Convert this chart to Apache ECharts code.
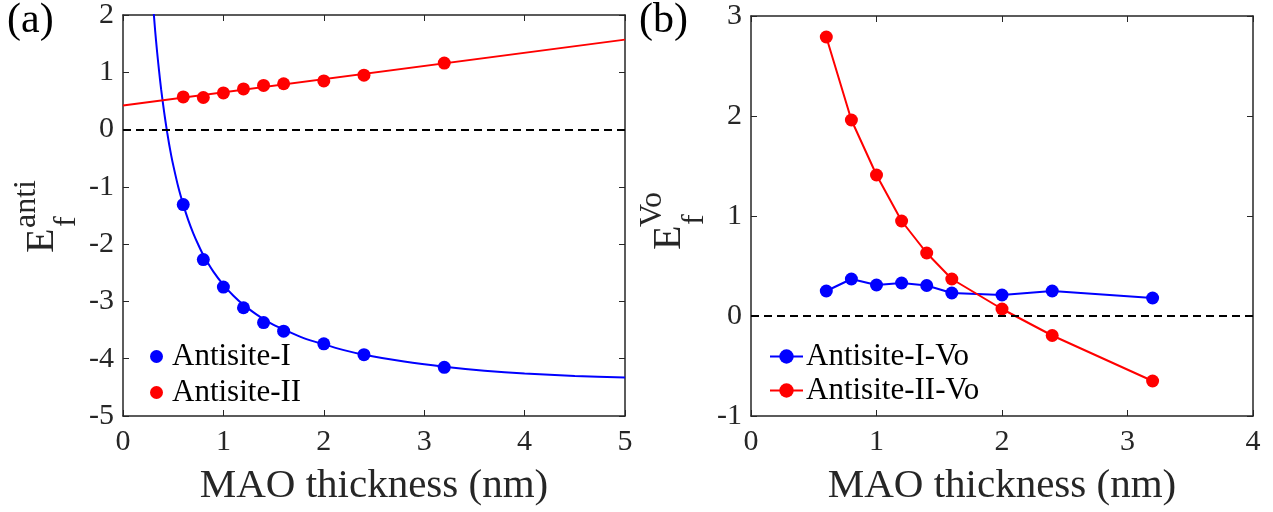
<!DOCTYPE html>
<html>
<head>
<meta charset="utf-8">
<script src="https://cdn.jsdelivr.net/npm/echarts@6/dist/echarts.min.js"></script>
<style>html,body{margin:0;padding:0;background:#fff;}#c{width:1273px;height:512px;}</style>
</head>
<body>
<div id="c"></div>
<script>
// ---- data ----
const thickness = [0.6, 0.8, 1.0, 1.2, 1.4, 1.6, 2.0, 2.4, 3.2];
const antisiteI = [-1.31, -2.27, -2.75, -3.11, -3.37, -3.52, -3.74, -3.93, -4.15];
const antisiteII = [0.57, 0.56, 0.64, 0.71, 0.77, 0.80, 0.85, 0.95, 1.16];
// fitted curves
const fitIx = [0.30, 0.32, 0.34, 0.36, 0.38, 0.40, 0.42, 0.44, 0.46, 0.48, 0.50, 0.55, 0.60, 0.65, 0.70, 0.75, 0.80, 0.90, 1.0, 1.1, 1.2, 1.3, 1.4, 1.5, 1.6, 1.8, 2.0, 2.2, 2.4, 2.8, 3.2, 3.6, 4.0, 4.5, 5.0];
const fitIy = [2.17, 1.73, 1.35, 1.01, 0.70, 0.43, 0.18, -0.05, -0.26, -0.45, -0.62, -1.00, -1.31, -1.58, -1.81, -2.01, -2.19, -2.48, -2.71, -2.90, -3.06, -3.19, -3.31, -3.41, -3.49, -3.64, -3.75, -3.85, -3.93, -4.05, -4.14, -4.21, -4.26, -4.30, -4.33];
const fitIIx = [0, 5];
const fitIIy = [0.42, 1.57];
const antisiteIVo = [0.25, 0.37, 0.31, 0.33, 0.305, 0.23, 0.21, 0.25, 0.18];
const antisiteIIVo = [2.79, 1.96, 1.41, 0.95, 0.63, 0.37, 0.07, -0.195, -0.65];
const ticksAx = [0, 5, 1], ticksAy = [-5, 2, 1];
const ticksBx = [0, 4, 1], ticksBy = [-1, 3, 1];

const FONT = '"Liberation Serif", "Times New Roman", serif';
const TXT = '#262626';
const BLUE = '#0000ff', RED = '#ff0000';
const zip = (xs, ys) => xs.map((x, i) => [x, ys[i]]);

function xAxes(gi, t) {
  const base = {
    type: 'value', gridIndex: gi, min: t[0], max: t[1], interval: t[2],
    axisLine: { show: true, onZero: false, lineStyle: { color: TXT, width: 1.5 } },
    axisTick: { show: true, inside: true, length: 6, lineStyle: { color: TXT, width: 1 } },
    splitLine: { show: false }
  };
  return [
    Object.assign({}, base, { position: 'bottom',
      axisLabel: { fontFamily: FONT, fontSize: 30, color: TXT, margin: 11 },
      name: 'MAO thickness (nm)', nameLocation: 'middle', nameGap: 50,
      nameTextStyle: { fontFamily: FONT, fontSize: 41, color: TXT } }),
    Object.assign({}, base, { position: 'top', axisLabel: { show: false } })
  ];
}
function yAxes(gi, t) {
  const base = {
    type: 'value', gridIndex: gi, min: t[0], max: t[1], interval: t[2],
    axisLine: { show: true, onZero: false, lineStyle: { color: TXT, width: 1.5 } },
    axisTick: { show: true, inside: true, length: 6, lineStyle: { color: TXT, width: 1 } },
    splitLine: { show: false }
  };
  return [
    Object.assign({}, base, { position: 'left',
      axisLabel: { fontFamily: FONT, fontSize: 30, color: TXT, margin: 9 } }),
    Object.assign({}, base, { position: 'right', axisLabel: { show: false } })
  ];
}

const zeroLine = {
  silent: true, symbol: ['none', 'none'], label: { show: false },
  lineStyle: { color: '#000', type: [8, 5], width: 2 },
  data: [{ yAxis: 0 }]
};

function yTitle(x, y, sup, supX, supDy, subX, subDy) {
  const k = 0.3375;
  return {
    type: 'group', x: x, y: y, rotation: Math.PI / 2,
    children: [
      { type: 'text', x: 0, y: -k * 40, style: { text: 'E', fontFamily: FONT, fontSize: 40, fill: TXT, align: 'left', verticalAlign: 'middle' } },
      { type: 'text', x: supX, y: supDy - k * 32, style: { text: sup, fontFamily: FONT, fontSize: 32, fill: TXT, align: 'left', verticalAlign: 'middle' } },
      { type: 'text', x: subX, y: subDy - k * 32, style: { text: 'f', fontFamily: FONT, fontSize: 32, fill: TXT, align: 'left', verticalAlign: 'middle' } }
    ]
  };
}

const option = {
  animation: false,
  backgroundColor: '#fff',
  grid: [
    { left: 123, top: 15, width: 502, height: 401 },
    { left: 751, top: 16, width: 502, height: 401 }
  ],
  xAxis: [].concat(xAxes(0, ticksAx), xAxes(1, ticksBx)),
  yAxis: [].concat(yAxes(0, ticksAy), yAxes(1, ticksBy)),
  legend: [
    {
      left: 145, top: 336, orient: 'vertical', itemGap: 5, itemWidth: 13, itemHeight: 13,
      data: ['Antisite-I', 'Antisite-II'],
      textStyle: { fontFamily: FONT, fontSize: 31, color: '#000', padding: [0, 0, 0, 4] }
    },
    {
      left: 764, top: 336, orient: 'vertical', itemGap: 3, itemWidth: 33, itemHeight: 18,
      data: ['Antisite-I-Vo', 'Antisite-II-Vo'],
      textStyle: { fontFamily: FONT, fontSize: 31, color: '#000', padding: [0, 0, 0, -2] }
    }
  ],
  graphic: [
    { type: 'text', x: 7, y: 21, style: { text: '(a)', fontFamily: FONT, fontSize: 42, fill: '#000', verticalAlign: 'middle' } },
    { type: 'text', x: 639, y: 21, style: { text: '(b)', fontFamily: FONT, fontSize: 42, fill: '#000', verticalAlign: 'middle' } },
    yTitle(56, 253, 'anti', 25, -19, 26, 21),
    yTitle(683, 250, 'Vo', 23, -20, 25, 22)
  ],
  series: [
    { name: 'fitI', type: 'line', xAxisIndex: 0, yAxisIndex: 0, data: zip(fitIx, fitIy), smooth: 0.25, showSymbol: false, symbol: 'none', lineStyle: { color: BLUE, width: 2 }, z: 2,
      markLine: zeroLine },
    { name: 'fitII', type: 'line', xAxisIndex: 0, yAxisIndex: 0, data: zip(fitIIx, fitIIy), showSymbol: false, symbol: 'none', lineStyle: { color: RED, width: 2 }, z: 2 },
    { name: 'Antisite-I', type: 'scatter', xAxisIndex: 0, yAxisIndex: 0, data: zip(thickness, antisiteI), symbol: 'circle', symbolSize: 13, itemStyle: { color: BLUE, opacity: 1 }, z: 3 },
    { name: 'Antisite-II', type: 'scatter', xAxisIndex: 0, yAxisIndex: 0, data: zip(thickness, antisiteII), symbol: 'circle', symbolSize: 13, itemStyle: { color: RED, opacity: 1 }, z: 3 },
    { name: 'Antisite-I-Vo', type: 'line', xAxisIndex: 2, yAxisIndex: 2, data: zip(thickness, antisiteIVo), symbol: 'circle', symbolSize: 13, showAllSymbol: true, itemStyle: { color: BLUE, borderWidth: 0 }, lineStyle: { color: BLUE, width: 2 }, z: 3,
      markLine: zeroLine },
    { name: 'Antisite-II-Vo', type: 'line', xAxisIndex: 2, yAxisIndex: 2, data: zip(thickness, antisiteIIVo), symbol: 'circle', symbolSize: 13, showAllSymbol: true, itemStyle: { color: RED, borderWidth: 0 }, lineStyle: { color: RED, width: 2 }, z: 4 }
  ]
};
const chart = echarts.init(document.getElementById('c'), null, { renderer: 'canvas' });
chart.setOption(option);
</script>
</body>
</html>
